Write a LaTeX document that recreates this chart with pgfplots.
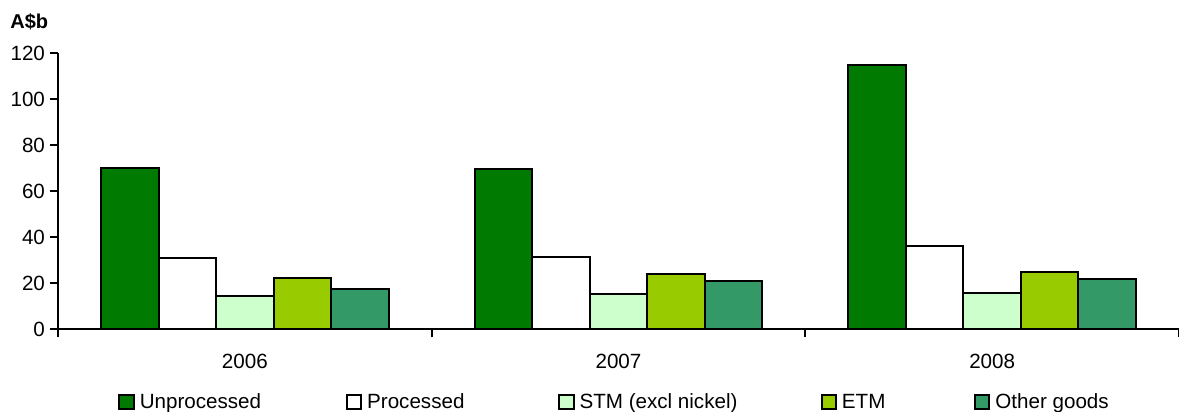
\documentclass[border=0pt]{standalone}
\usepackage{pgfplots}
\pgfplotsset{compat=1.18}
\usepackage{fontspec}
\setmainfont{Liberation Sans}

\definecolor{unproc}{HTML}{007A00}
\definecolor{stm}{HTML}{CCFFCC}
\definecolor{etm}{HTML}{99CC00}
\definecolor{other}{HTML}{339966}

\begin{document}
\begin{tikzpicture}
\useasboundingbox (0,0) rectangle (589.5pt,206pt);
\node[anchor=west, inner sep=0pt, font=\fontsize{10}{11}\selectfont\bfseries] at (5pt,195.3pt) {A\$b};
\begin{axis}[
    at={(29pt,41.35pt)},
    anchor=south west,
    scale only axis,
    width=560.5pt,
    height=138pt,
    xmin=-0.5, xmax=2.5,
    ymin=0, ymax=120,
    ybar=0pt,
    bar width=0.154,
    axis lines*=left,
    axis line style={line width=1pt},
    tick align=outside,
    xtick={0,1,2},
    xticklabels={2006,2007,2008},
    major x tick style={draw=none},
    minor xtick={-0.5,0.5,1.5,2.5},
    minor x tick style={black, line width=1pt},
    minor tick length=4pt,
    ytick={0,20,...,120},
    y tick style={black, line width=1pt},
    major tick length=4pt,
    /pgf/number format/assume math mode=true,
    tick label style={font=\fontsize{10.3}{12}\selectfont},
    yticklabel style={xshift=1pt},
    xticklabel style={yshift=-5pt},
    legend columns=5,
    legend style={
        at={(0.0535,-0.263)}, anchor=west,
        draw=none, inner sep=0pt,
        font=\fontsize{10.3}{12}\selectfont,
        nodes={inner sep=0pt},
        /tikz/every even column/.append style={column sep=0pt},
    },
    legend image code/.code={\draw[#1, line width=1pt] (0pt,-3.6pt) rectangle (7.2pt,3.6pt);},
]
\addplot[fill=unproc, draw=black, line width=1pt] coordinates {(0,70.3) (1,69.5) (2,115.0)};
\addlegendentry{\strut\hspace{2.5pt}\makebox[103pt][l]{Unprocessed}}
\addplot[fill=white, draw=black, line width=1pt] coordinates {(0,30.9) (1,31.3) (2,36.3)};
\addlegendentry{\strut\hspace{2.5pt}\makebox[95.5pt][l]{Processed}}
\addplot[fill=stm, draw=black, line width=1pt] coordinates {(0,14.5) (1,15.4) (2,15.9)};
\addlegendentry{\strut\hspace{2.5pt}\makebox[120.5pt][l]{STM (excl nickel)}}
\addplot[fill=etm, draw=black, line width=1pt] coordinates {(0,22.2) (1,24.0) (2,24.8)};
\addlegendentry{\strut\hspace{2.5pt}\makebox[66pt][l]{ETM}}
\addplot[fill=other, draw=black, line width=1pt] coordinates {(0,17.4) (1,21.1) (2,21.9)};
\addlegendentry{\strut\hspace{2.5pt}Other goods}
\end{axis}
\end{tikzpicture}
\end{document}
